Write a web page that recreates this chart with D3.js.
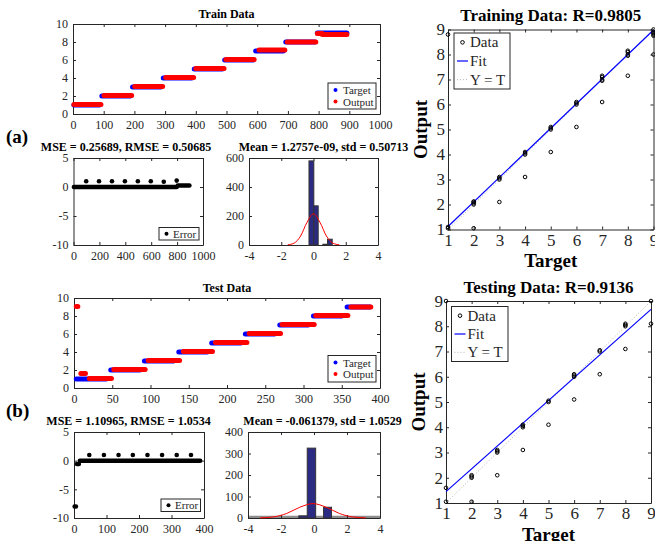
<!DOCTYPE html>
<html>
<head>
<meta charset="utf-8">
<script src="https://cdn.jsdelivr.net/npm/d3@7"></script>
<style>
  body { margin: 0; background: #fff; }
  svg { display: block; font-family: "Liberation Serif", "Times New Roman", serif; }
</style>
</head>
<body>
<script>
// ---------- data ----------
// runs of constant value: [first index, last index, value]
const trainTarget = [[3,86,1],[94,186,2],[194,286,3],[294,387,4],[395,486,5],[494,587,6],[595,685,7],[693,788,8],[796,892,9]];
const trainOutput = [[3,91,1.05],[101,191,2.05],[201,292,3.05],[302,393,4.05],[400,492,5.05],[498,590,6.05],[606,690,7.1],[698,791,8.0],[796,812,8.95],[812,892,8.83]];
const testTarget = [[3,42,1],[48,86,2],[92,130,3],[137,174,4],[180,218,5],[224,262,6],[269,306,7],[313,350,8],[357,387,9]];
const testOutput = [[3,5,9.05],[9,15,1.6],[20,49,1.05],[52,93,2.05],[97,138,3.05],[143,181,4.05],[185,226,5.05],[229,270,6.05],[272,314,7.05],[316,358,8.05],[362,388,9.0]];

const trainErrRuns = [[3,797,0],[805,895,0.28]];
const trainErrSpikeX = [98,197,297,397,497,597,697,797];
const trainErrSpikeY = [1,1,1,1,1,1,0.9,1.1];
const testErrRuns = [[2,6,-8],[9,15,-0.6],[18,388,0]];
const testErrSpikeX = [47,92,137,181,226,271,316,360];
const testErrSpikeY = [1,1,1,1,1,1,1,1];

const histAEdges = [-0.28, 0.02, 0.29, 0.58, 0.87, 1.16];
const histACounts = [580, 270, 0, 5, 40];
const histBEdges = [-0.92, -0.41, 0.1, 0.58, 1.06];
const histBCounts = [10, 325, 0, 50];
const gaussAX = [-1.6, -1.2, -0.8, -0.4, 0, 0.4, 0.8, 1.2, 1.6];
const gaussAY = [1.5, 13, 62, 157, 215, 157, 62, 13, 1.5];
const gaussBX = [-3.26, -2.46, -1.66, -0.86, -0.06, 0.74, 1.54, 2.34, 3.14];
const gaussBY = [0.6, 5, 21, 50, 67, 50, 21, 5, 0.6];

const regTrainT = [1,1,1, 2,2,2,2,2, 3,3,3,3, 4,4,4,4, 5,5,5,5, 6,6,6,6, 7,7,7,7,7, 8,8,8,8,8, 9,9,9,9,9,9];
const regTrainO = [1.05,1.1,8.8, 1.05,2.0,2.05,2.1,2.12, 2.1,3.0,3.05,3.1, 3.1,4.0,4.05,4.1, 4.1,5.0,5.05,5.1, 5.1,6.0,6.05,6.1, 6.1,6.95,7.0,7.1,7.15, 7.15,7.95,8.0,8.1,8.15, 8.0,8.75,8.8,8.85,8.9,9.0];
const regTrainFit = [[1,1.12],[9,8.98]];
const regTestT = [1,1,1, 2,2,2,2, 3,3,3,3, 4,4,4,4, 5,5,5, 6,6,6,6, 7,7,7, 8,8,8,8, 9,9];
const regTestO = [1.05,1.6,9.0, 1.05,2.0,2.05,2.1, 2.1,3.0,3.05,3.1, 3.1,4.0,4.05,4.1, 4.1,5.0,5.05, 5.1,6.0,6.05,6.1, 6.1,7.0,7.05, 7.1,8.0,8.05,8.1, 8.1,9.0];
const regTestFit = [[1,1.45],[9,8.67]];

const ticksTrainX = [0,100,200,300,400,500,600,700,800,900,1000];
const ticksTestX = [0,50,100,150,200,250,300,350,400];
const ticks0to10 = [0,2,4,6,8,10];
const ticksErrY = [-10,-5,0,5];
const ticksErrAX = [0,200,400,600,800,1000];
const ticksErrBX = [0,100,200,300,400];
const ticksHistX = [-4,-2,0,2,4];
const ticksHistAY = [0,200,400,600];
const ticksHistBY = [0,100,200,300,400];
const ticksReg = [1,2,3,4,5,6,7,8,9];

// ---------- drawing ----------
const ink = "#262626";
const svg = d3.select("body").append("svg").attr("width", 655).attr("height", 541);

// MATLAB-like box axes with inward ticks on all four sides
function panel(p, xd, yd, xt, yt, o) {
  const x = d3.scaleLinear().domain(xd).range([p.x0, p.x1]);
  const y = d3.scaleLinear().domain(yd).range([p.y1, p.y0]);
  const g = svg.append("g").attr("color", ink);
  const fmt = d => String(d);
  const sets = [
    [d3.axisBottom(x).tickValues(xt).tickFormat(fmt).tickPadding(o.padX), p.y1, 0],
    [d3.axisTop(x).tickValues(xt).tickFormat(""), p.y0, 0],
    [d3.axisLeft(y).tickValues(yt).tickFormat(fmt).tickPadding(o.padY), 0, p.x0],
    [d3.axisRight(y).tickValues(yt).tickFormat(""), 0, p.x1]
  ];
  sets.forEach(([ax, ty, tx]) => {
    const a = g.append("g")
      .attr("transform", `translate(${tx},${ty})`)
      .call(ax.tickSizeInner(-3).tickSizeOuter(0));
    a.attr("font-family", null).attr("font-size", o.fs);
    a.selectAll("text").attr("fill", ink);
  });
  return { x, y };
}

function text(x, y, s, size, opts) {
  opts = opts || {};
  const t = svg.append("text")
    .attr("x", x).attr("y", y)
    .attr("font-size", size)
    .attr("font-weight", opts.bold ? "bold" : null)
    .attr("text-anchor", opts.anchor || "middle")
    .attr("fill", opts.fill || "#000")
    .text(s);
  if (opts.rotate) t.attr("transform", `rotate(-90,${x},${y})`);
  return t;
}

function runs(sc, data, color, w) {
  svg.append("g").selectAll("line").data(data).join("line")
    .attr("x1", d => sc.x(d[0])).attr("x2", d => sc.x(d[1]))
    .attr("y1", d => sc.y(d[2])).attr("y2", d => sc.y(d[2]))
    .attr("stroke", color).attr("stroke-width", w).attr("stroke-linecap", "round");
}

function dots(sc, xs, ys, color, r) {
  svg.append("g").selectAll("circle").data(xs).join("circle")
    .attr("cx", d => sc.x(d)).attr("cy", (d, i) => sc.y(ys[i]))
    .attr("r", r).attr("fill", color);
}

function legendBox(x0, y0, x1, y1) {
  svg.append("rect").attr("x", x0).attr("y", y0)
    .attr("width", x1 - x0).attr("height", y1 - y0)
    .attr("fill", "#fff").attr("stroke", ink).attr("stroke-width", 1);
}

function seriesPanel(p, xd, xt, target, output, title, leg) {
  const sc = panel(p, xd, [0, 10], xt, ticks0to10, { fs: 12, padX: 6, padY: 5 });
  runs(sc, target, "#0000ff", 5);
  runs(sc, output, "#ff0000", 5);
  text((p.x0 + p.x1) / 2, p.y0 - 6, title, 12, { bold: true });
  legendBox(leg.x0, leg.y0, leg.x1, leg.y1);
  const rows = [["Target", "#0000ff"], ["Output", "#ff0000"]];
  rows.forEach((r, i) => {
    const cy = leg.y0 + 7 + i * 11.5;
    svg.append("circle").attr("cx", leg.x0 + 7.5).attr("cy", cy).attr("r", 2).attr("fill", r[1]);
    text(leg.x0 + 15, cy + 4, r[0], 11, { anchor: "start", fill: ink });
  });
}

function errorPanel(p, xd, xt, errRuns, sx, sy, title, tx, leg) {
  const sc = panel(p, xd, [-10, 5], xt, ticksErrY, { fs: 12, padX: 6, padY: 5 });
  runs(sc, errRuns, "#000", 4.5);
  dots(sc, sx, sy, "#000", 2.3);
  text(tx, p.y0 - 7, title, 12, { bold: true });
  legendBox(leg.x0, leg.y0, leg.x1, leg.y1);
  const cy = (leg.y0 + leg.y1) / 2;
  svg.append("circle").attr("cx", leg.x0 + 7.5).attr("cy", cy).attr("r", 2).attr("fill", "#000");
  text(leg.x0 + 14, cy + 4, "Error", 11, { anchor: "start", fill: ink });
}

function histPanel(p, yd, yt, edges, counts, gx, gy, title, tx) {
  const sc = panel(p, [-4, 4], yd, ticksHistX, yt, { fs: 12, padX: 6, padY: 5 });
  svg.append("g").selectAll("rect").data(counts).join("rect")
    .attr("x", (d, i) => sc.x(edges[i]))
    .attr("width", (d, i) => sc.x(edges[i + 1]) - sc.x(edges[i]))
    .attr("y", d => sc.y(d))
    .attr("height", d => sc.y(0) - sc.y(d))
    .attr("fill", "#2b2b84").attr("stroke", "#333").attr("stroke-width", 1);
  const line = d3.line().x(d => sc.x(d)).y((d, i) => sc.y(gy[i])).curve(d3.curveMonotoneX);
  svg.append("path").attr("d", line(gx)).attr("fill", "none")
    .attr("stroke", "#ff0000").attr("stroke-width", 1);
  text(tx, p.y0 - 7, title, 12, { bold: true });
  return sc;
}

function regPanel(p, t, o, fit, title, leg) {
  const sc = panel(p, [1, 9], [1, 9], ticksReg, ticksReg, { fs: 17, padX: 4, padY: 3 });
  svg.append("line")
    .attr("x1", sc.x(1)).attr("y1", sc.y(1)).attr("x2", sc.x(9)).attr("y2", sc.y(9))
    .attr("stroke", "#b4b4b4").attr("stroke-width", 1).attr("stroke-dasharray", "1,2");
  svg.append("line")
    .attr("x1", sc.x(fit[0][0])).attr("y1", sc.y(fit[0][1]))
    .attr("x2", sc.x(fit[1][0])).attr("y2", sc.y(fit[1][1]))
    .attr("stroke", "#0000ff").attr("stroke-width", 1.2);
  svg.append("g").selectAll("circle").data(t).join("circle")
    .attr("cx", d => sc.x(d)).attr("cy", (d, i) => sc.y(o[i]))
    .attr("r", 1.8).attr("fill", "none").attr("stroke", "#000").attr("stroke-width", 1);
  text((p.x0 + p.x1) / 2, p.y0 - 8.5, title, 17, { bold: true });
  text((p.x0 + p.x1) / 2, p.y1 + 37.5, "Target", 19, { bold: true });
  text(p.x0 - 21, (p.y0 + p.y1) / 2, "Output", 19, { bold: true, rotate: true });
  legendBox(leg.x0, leg.y0, leg.x1, leg.y1);
  const rowH = (leg.y1 - leg.y0) / 3;
  const lx0 = leg.x0 + 3, lx1 = leg.x0 + 14;
  const cy = i => leg.y0 + rowH * (i + 0.5);
  svg.append("circle").attr("cx", (lx0 + lx1) / 2).attr("cy", cy(0)).attr("r", 1.8)
    .attr("fill", "none").attr("stroke", "#000");
  svg.append("line").attr("x1", lx0).attr("x2", lx1).attr("y1", cy(1)).attr("y2", cy(1))
    .attr("stroke", "#0000ff").attr("stroke-width", 1.2);
  svg.append("line").attr("x1", lx0).attr("x2", lx1).attr("y1", cy(2)).attr("y2", cy(2))
    .attr("stroke", "#b4b4b4").attr("stroke-dasharray", "1,2");
  ["Data", "Fit", "Y = T"].forEach((s, i) => text(lx1 + 2, cy(i) + 5, s, 15, { anchor: "start", fill: ink }));
}

// (a) training
seriesPanel({ x0: 73, x1: 380, y0: 24, y1: 114 }, [0, 1000], ticksTrainX, trainTarget, trainOutput,
  "Train Data", { x0: 328, y0: 83, x1: 376, y1: 109 });
errorPanel({ x0: 73.5, x1: 203, y0: 158, y1: 245 }, [0, 1000], ticksErrAX, trainErrRuns,
  trainErrSpikeX, trainErrSpikeY, "MSE = 0.25689, RMSE = 0.50685", 126, { x0: 159, y0: 227.5, x1: 199, y1: 240 });
histPanel({ x0: 249, x1: 378, y0: 158, y1: 245 }, [0, 600], ticksHistAY, histAEdges, histACounts,
  gaussAX, gaussAY, "Mean = 1.2757e-09, std = 0.50713", 323.5);
regPanel({ x0: 448, x1: 653.5, y0: 29.5, y1: 229.5 }, regTrainT, regTrainO, regTrainFit,
  "Training Data: R=0.9805", { x0: 454, y0: 33, x1: 510, y1: 89 });

// (b) testing
seriesPanel({ x0: 74, x1: 380, y0: 298, y1: 388 }, [0, 400], ticksTestX, testTarget, testOutput,
  "Test Data", { x0: 328, y0: 355.5, x1: 376, y1: 382 });
errorPanel({ x0: 74, x1: 204, y0: 432, y1: 518 }, [0, 400], ticksErrBX, testErrRuns,
  testErrSpikeX, testErrSpikeY, "MSE = 1.10965, RMSE = 1.0534", 128.5, { x0: 161, y0: 499, x1: 200.5, y1: 511.5 });
const hb = { x0: 248, x1: 380, y0: 432, y1: 518 };
svg.append("line").attr("x1", hb.x0).attr("x2", hb.x1).attr("y1", hb.y1 - 1).attr("y2", hb.y1 - 1)
  .attr("stroke", "#8c8c8c").attr("stroke-width", 2.5);
histPanel(hb, [0, 400], ticksHistBY, histBEdges, histBCounts,
  gaussBX, gaussBY, "Mean = -0.061379, std = 1.0529", 322.5);
regPanel({ x0: 446, x1: 651, y0: 301, y1: 503 }, regTestT, regTestO, regTestFit,
  "Testing Data: R=0.9136", { x0: 451.5, y0: 306.5, x1: 508, y1: 361.5 });

// panel letters
text(6, 143, "(a)", 19, { bold: true, anchor: "start" });
text(6, 417, "(b)", 19, { bold: true, anchor: "start" });
</script>
</body>
</html>
